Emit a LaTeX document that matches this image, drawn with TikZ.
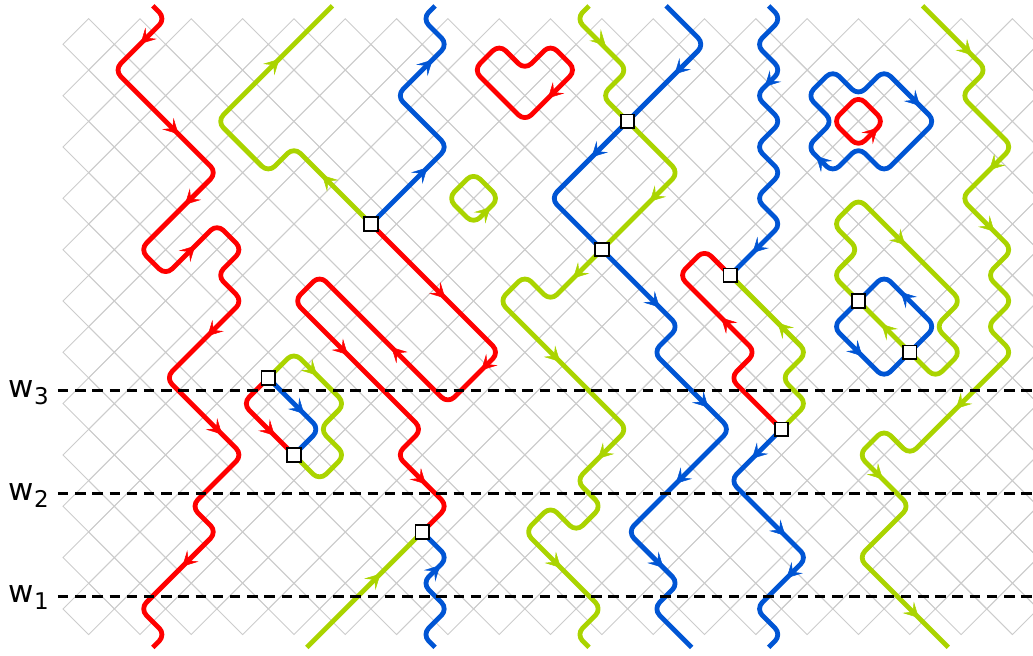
\documentclass[tikz,border=0pt]{standalone}
\usepackage{fontspec}
\setmainfont{DejaVu Sans}
\usetikzlibrary{arrows.meta,decorations.markings,calc}
\definecolor{pr}{HTML}{FF0000}
\definecolor{pg}{HTML}{AAD400}
\definecolor{pb}{HTML}{0055D4}
\definecolor{gridc}{HTML}{CCCCCC}
\newcommand\arw[4]{\path[draw=none,decoration={markings,mark=at position 0.5 with {\arrow{Stealth[length=15pt,width=16pt,inset=6.5pt,line width=0.5pt,color=#1,fill=#1]}}},decorate] ($(#2,#3)$) -- ($(#2,#3)+0.2*(#4)$);}
\tikzset{
  gridline/.style={draw=gridc, line width=0.9pt},
  pth/.style={line width=4.8pt, rounded corners=9pt, line join=round},
  wline/.style={line width=3pt, dash pattern=on 10.5pt off 6.7pt},
  vbox/.style={draw=black, fill=white, line width=1.8pt, minimum size=13.5pt, inner sep=0pt, rectangle},
  lbl/.style={font=\fontsize{31pt}{31pt}\selectfont, inner sep=0pt, anchor=base west}
}
\newcommand\subn[1]{\kern0.5pt\raisebox{-7pt}{\fontsize{23pt}{23pt}\selectfont #1}}
\begin{document}
\begin{tikzpicture}[x=25.66pt, y=-25.66pt]
\useasboundingbox (-2.4552,-0.7288) rectangle (37.802,24.7996);
\begin{scope}
\clip (-2.4552,-0.7288) rectangle (37.802,24.7996);
\foreach \y in {1,3,...,23}{\foreach \x in {1,3,...,37}{\draw[gridline] (\x-1,\y) -- (\x,\y-1) -- (\x+1,\y) -- (\x,\y+1) -- cycle;}}
\foreach \y in {2,4,...,22}{\foreach \x in {2,4,...,38}{\draw[gridline] (\x-1,\y) -- (\x,\y-1) -- (\x+1,\y) -- (\x,\y+1) -- cycle;}}
\end{scope}
% vertex coordinates
\coordinate (b1) at (12,8);
\coordinate (b2) at (14,20);
\coordinate (b3) at (22,4);
\coordinate (b4) at (21,9);
\coordinate (b5) at (26,10);
\coordinate (b6) at (28,16);
\coordinate (b7) at (31,11);
\coordinate (b8) at (33,13);
\coordinate (b9) at (8,14);
\coordinate (b10) at (9,17);
% paths
\draw[pth,pr] (3.5,-0.5) -- (4,0) -- (2,2) -- (6,6) -- (3,9) -- (4,10) -- (6,8) -- (7,9) -- (6,10) -- (7,11) -- (4,14) -- (7,17) -- (5,19) -- (6,20) -- (3,23) -- (4,24) -- (3.5,24.5);
\draw[pth,pg] (b1) -- (9,5) -- (8,6) -- (6,4) -- (10.5,-0.5);
\draw[pth,pb] (b1) -- (15,5) -- (13,3) -- (15,1) -- (14,0) -- (14.5,-0.5);
\draw[pth,pr] (b1) -- (17,13) -- (15,15) -- (10,10) -- (9,11) -- (14,16) -- (13,17) -- (15,19) -- (b2);
\draw[pth,pg] (9.5,24.5) -- (b2);
\draw[pth,pb] (14.5,24.5) -- (14,24) -- (15,23) -- (14,22) -- (15,21) -- (b2);
\draw[pth,pr] (17.5,1.5) -- (18,2) -- (19,1) -- (20,2) -- (18,4) -- (16,2) -- (17,1) -- cycle;
\draw[pth,pg] (16.5,6.5) -- (17,7) -- (16,8) -- (15,7) -- (16,6) -- cycle;
\draw[pth,pg] (20.5,-0.5) -- (20,0) -- (22,2) -- (21,3) -- (b3) -- (24,6) -- (b4) -- (19,11) -- (18,10) -- (17,11) -- (22,16) -- (20,18) -- (21,19) -- (20,20) -- (19,19) -- (18,20) -- (21,23) -- (20,24) -- (20.5,24.5);
\draw[pth,pb] (23.5,-0.5) -- (25,1) -- (b3) -- (19,7) -- (b4) -- (24,12) -- (23,13) -- (26,16) -- (22,20) -- (24,22) -- (23,23) -- (24.5,24.5);
\draw[pth,pb] (27.5,-0.5) -- (28,0) -- (27,1) -- (28,2) -- (27,3) -- (28,4) -- (27,5) -- (28,6) -- (27,7) -- (28,8) -- (b5);
\draw[pth,pr] (b5) -- (25,9) -- (24,10) -- (27,13) -- (26,14) -- (b6);
\draw[pth,pg] (b5) -- (29,13) -- (28,14) -- (29,15) -- (b6);
\draw[pth,pb] (b6) -- (26,18) -- (29,21) -- (27,23) -- (28,24) -- (27.5,24.5);
\draw[pth,pb] (30.5,2.5) -- (31,3) -- (32,2) -- (34,4) -- (32,6) -- (31,5) -- (30,6) -- (29,5) -- (30,4) -- (29,3) -- (30,2) -- cycle;
\draw[pth,pr] (31.5,3.5) -- (32,4) -- (31,5) -- (30,4) -- (31,3) -- cycle;
\draw[pth,pg] (33.5,-0.5) -- (36,2) -- (35,3) -- (37,5) -- (35,7) -- (37,9) -- (36,10) -- (37,11) -- (36,12) -- (37,13) -- (33,17) -- (32,16) -- (31,17) -- (33,19) -- (31,21) -- (34.5,24.5);
\draw[pth,pg] (33,9) -- (35,11) -- (34,12) -- (35,13) -- (34,14) -- (b8) -- (b7) -- (30,10) -- (31,9) -- (30,8) -- (31,7) -- cycle;
\draw[pth,pb] (31.5,10.5) -- (32,10) -- (34,12) -- (b8) -- (32,14) -- (30,12) -- (b7) -- cycle;
\draw[pth,pg] (b9) -- (9,13) -- (11,15) -- (10,16) -- (11,17) -- (10,18) -- (b10);
\draw[pth,pr] (b9) -- (7,15) -- (b10);
\draw[pth,pb] (b9) -- (10,16) -- (b10);
% arrows
\arw{pr}{3.12}{0.88}{-1,1}
\arw{pr}{4.4}{4.4}{1,1}
\arw{pr}{4.85}{7.15}{-1,1}
\arw{pr}{5.05}{8.95}{1,-1}
\arw{pr}{5.73}{12.27}{-1,1}
\arw{pr}{6.1}{16.1}{1,1}
\arw{pr}{4.75}{21.25}{-1,1}
\arw{pg}{8.33}{1.67}{1,-1}
\arw{pg}{10.2}{6.2}{-1,-1}
\arw{pb}{14.1}{5.9}{1,-1}
\arw{pb}{14.3}{1.7}{1,-1}
\arw{pr}{14.8}{10.8}{1,1}
\arw{pr}{16.4}{13.6}{-1,1}
\arw{pr}{12.9}{12.9}{-1,-1}
\arw{pr}{11}{13}{1,1}
\arw{pr}{14.04}{18.04}{1,1}
\arw{pg}{12.27}{21.73}{1,-1}
\arw{pb}{14.6}{21.4}{1,-1}
\arw{pr}{19}{3}{-1,1}
\arw{pg}{16.55}{7.45}{1,-1}
\arw{pg}{21.05}{0.95}{1,1}
\arw{pg}{22.97}{7.03}{-1,1}
\arw{pg}{19.98}{10.02}{-1,1}
\arw{pg}{19.27}{13.27}{1,1}
\arw{pg}{20.95}{17.05}{-1,1}
\arw{pg}{19.3}{21.3}{1,1}
\arw{pb}{23.93}{2.07}{-1,1}
\arw{pb}{20.7}{5.3}{-1,1}
\arw{pb}{23.15}{11.15}{1,1}
\arw{pb}{25.05}{15.05}{1,1}
\arw{pb}{23.98}{18.02}{-1,1}
\arw{pb}{23.3}{21.3}{1,1}
\arw{pb}{27.45}{2.55}{-1,1}
\arw{pb}{26.97}{9.03}{-1,1}
\arw{pr}{25.75}{11.75}{-1,-1}
\arw{pg}{27.95}{11.95}{-1,-1}
\arw{pb}{26.95}{17.05}{-1,1}
\arw{pb}{28.05}{20.05}{1,1}
\arw{pb}{28.3}{21.7}{-1,1}
\arw{pb}{33.3}{3.3}{1,1}
\arw{pb}{29.45}{5.45}{-1,-1}
\arw{pr}{31.65}{4.35}{1,-1}
\arw{pg}{35.32}{1.32}{1,1}
\arw{pg}{36.2}{5.8}{-1,1}
\arw{pg}{36.2}{8.2}{1,1}
\arw{pg}{34.9}{15.1}{-1,1}
\arw{pg}{31.85}{17.85}{1,1}
\arw{pg}{33.25}{23.25}{1,1}
\arw{pg}{32.72}{8.72}{1,1}
\arw{pg}{32}{12}{-1,-1}
\arw{pb}{32.75}{10.75}{-1,-1}
\arw{pb}{31.05}{13.05}{1,1}
\arw{pg}{9.8}{13.8}{1,1}
\arw{pr}{8.15}{16.15}{1,1}
\arw{pb}{9.3}{15.3}{1,1}
% levels
\coordinate (l3a) at (-0.195,14.5); \coordinate (l3b) at (38,14.5);
\coordinate (l2a) at (-0.195,18.5); \coordinate (l2b) at (38,18.5);
\coordinate (l1a) at (-0.195,22.5); \coordinate (l1b) at (38,22.5);
\draw[wline] (l3a) -- (l3b);
\draw[wline] (l2a) -- (l2b);
\draw[wline] (l1a) -- (l1b);
\node[lbl] (w3) at (-2.14,14.77) {w\subn{3}};
\node[lbl] (w2) at (-2.14,18.77) {w\subn{2}};
\node[lbl] (w1) at (-2.14,22.77) {w\subn{1}};
% vertex boxes
\foreach \b in {b1,b2,b3,b4,b5,b6,b7,b8,b9,b10}{\node[vbox] (n\b) at (\b) {};}
\end{tikzpicture}
\end{document}
